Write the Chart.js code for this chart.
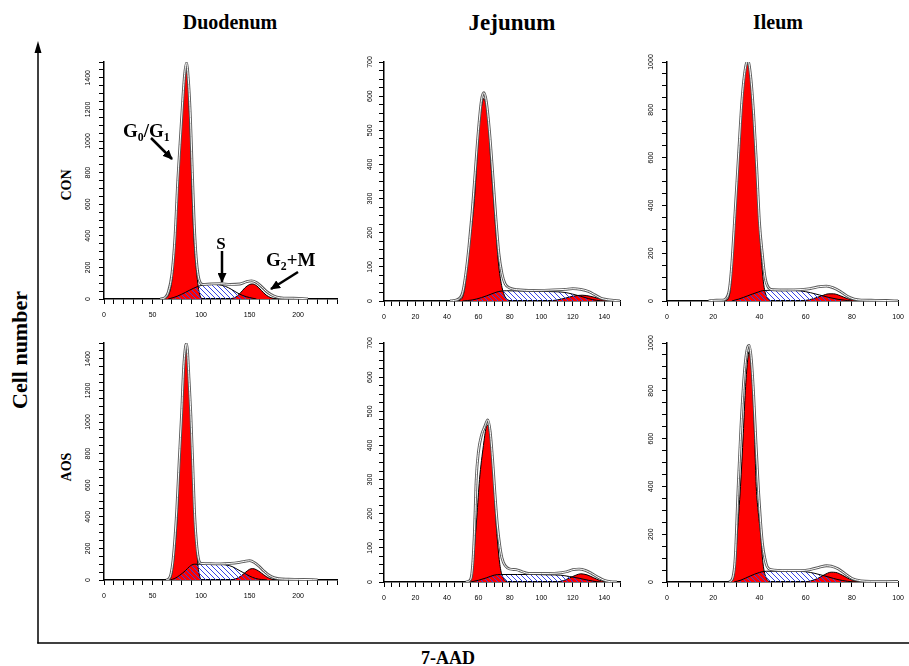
<!DOCTYPE html>
<html>
<head>
<meta charset="utf-8">
<script src="https://cdn.jsdelivr.net/npm/chart.js@4.4.1/dist/chart.umd.min.js"></script>
<style>
  body { margin: 0; background: #fff; width: 909px; height: 666px; position: relative; overflow: hidden; font-family: "Liberation Serif", "Times New Roman", serif; }
  canvas { position: absolute; }
  .t { position: absolute; font-weight: bold; white-space: nowrap; line-height: 1; color: #000; }
  .c { transform: translate(-50%, -50%); }
  .v { transform: translate(-50%, -50%) rotate(-90deg); }
  sub { font-size: 62%; vertical-align: -0.35em; line-height: 0; }
  svg { position: absolute; left: 0; top: 0; z-index: 2; }
</style>
</head>
<body>

<div class="t c" style="left:230px;top:22px;font-size:20px">Duodenum</div>
<div class="t c" style="left:512px;top:22px;font-size:23px">Jejunum</div>
<div class="t c" style="left:778px;top:22px;font-size:20px">Ileum</div>
<div class="t v" style="left:67px;top:185px;font-size:14px">CON</div>
<div class="t v" style="left:67px;top:467px;font-size:14px">AOS</div>
<div class="t v" style="left:20px;top:350px;font-size:22px">Cell number</div>
<div class="t c" style="left:448px;top:658px;font-size:18px">7-AAD</div>

<div class="t" style="left:123px;top:121px;font-size:19px;z-index:3">G<sub>0</sub>/G<sub>1</sub></div>
<div class="t c" style="left:221px;top:243px;font-size:17px;z-index:3">S</div>
<div class="t" style="left:266px;top:250px;font-size:19px;z-index:3">G<sub>2</sub>+M</div>

<svg width="909" height="666">
  <defs>
    <marker id="ah" markerUnits="userSpaceOnUse" markerWidth="10" markerHeight="9" refX="9" refY="4.5" orient="auto">
      <path d="M0,0 L10,4.5 L0,9 Z" fill="#000"/>
    </marker>
  </defs>
  <line x1="38" y1="50" x2="38" y2="643.5" stroke="#000" stroke-width="1.5"/>
  <line x1="37.3" y1="643" x2="909" y2="643" stroke="#000" stroke-width="1.5"/>
  <path d="M38,41 L34.5,53 L41.5,53 Z" fill="#000"/>
  <line x1="151" y1="138" x2="172" y2="159" stroke="#000" stroke-width="2.5" marker-end="url(#ah)"/>
  <line x1="222" y1="251" x2="222" y2="282" stroke="#000" stroke-width="2.5" marker-end="url(#ah)"/>
  <line x1="298" y1="272" x2="271" y2="289" stroke="#000" stroke-width="2.5" marker-end="url(#ah)"/>
</svg>

<script>
// [channel, count] pairs
const conDuoG1 = [[62,0],[66,20],[69,80],[71.3,200],[73.5,420],[75.4,700],[77.2,870],[78.9,1000],[80.9,1200],[83,1380],[85,1442],[86.5,1380],[87.8,1200],[89.2,1000],[90.6,700],[92.5,400],[94,260],[95.4,170],[97,80],[99,20],[101,0]];
const conDuoS = [[66,0],[72,10],[80,30],[88,55],[96,78],[102,88],[110,92],[118,90],[125,80],[131,62],[137,40],[143,22],[150,9],[157,0]];
const conDuoG2 = [[128,0],[135,10],[140,35],[145,70],[150,92],[153,95],[157,85],[162,55],[167,25],[172,8],[178,0]];
const conDuoTot = [[58,0],[63,10],[66,40],[70,160],[73,380],[76,750],[79,1050],[81,1250],[83,1420],[85,1495],[87,1380],[89,1150],[91,800],[93,470],[95,260],[97,150],[99,105],[102,92],[110,95],[120,97],[130,92],[140,95],[147,110],[152,115],[157,105],[162,80],[167,50],[172,28],[178,12],[185,6],[195,5],[205,3],[210,0]];

const conJejG1 = [[46,0],[49,5],[51,30],[52.9,100],[55,190],[57.5,300],[60.3,500],[62,570],[63.4,593],[65,570],[66.6,500],[68,400],[69.6,300],[71.5,180],[73,100],[75,40],[77,12],[80,0]];
const conJejS = [[50,0],[56,3],[62,10],[68,20],[73,28],[78,30],[90,29],[100,28],[110,27],[115,25],[120,20],[125,14],[130,7],[135,2],[140,0]];
const conJejG2 = [[105,0],[110,3],[115,8],[120,14],[126,17],[131,14],[136,8],[140,3],[145,0]];
const conJejTot = [[42,0],[45,2],[48,8],[50,25],[52,80],[54,160],[56,260],[58,380],[60,500],[62,590],[63.5,610],[65,585],[67,500],[69,380],[71,250],[73,140],[75,80],[77,50],[80,38],[85,33],[95,31],[105,32],[115,34],[120,36],[125,34],[130,28],[134,18],[138,8],[142,4],[146,2],[150,0]];

const conIleG1 = [[25,0],[26.5,10],[27.5,60],[28.4,200],[29.7,400],[31,620],[32.1,800],[33.5,950],[35,990],[36.2,920],[37.1,800],[38.3,600],[39.5,400],[40.7,200],[41.7,80],[43,20],[45,0]];
const conIleS = [[28,0],[31,8],[35,22],[39,36],[42,44],[48,45],[54,44],[58,42],[62,35],[66,25],[70,15],[74,7],[78,2],[80,0]];
const conIleG2 = [[58,0],[61,4],[64,12],[67,22],[70,30],[72,30],[75,22],[78,10],[81,3],[83,0]];
const conIleTot = [[18,0],[20,3],[24,4],[25.5,10],[27,50],[28,150],[29.5,380],[31,620],[32.5,850],[34,980],[35,1005],[36.3,930],[37.5,780],[38.8,560],[40,330],[41.2,200],[42.4,100],[44,55],[46,47],[52,46],[58,48],[62,52],[66,60],[69,62],[72,55],[75,40],[78,20],[81,8],[84,4],[90,3],[95,2],[100,0]];

const aosDuoG1 = [[66,0],[68.5,10],[70.5,60],[73,200],[75.4,400],[77.5,700],[79.9,1000],[82,1300],[84,1440],[85,1468],[86,1420],[87.5,1250],[89.5,1000],[91.5,700],[93.3,400],[95.4,200],[97,80],[99,15],[101,0]];
const aosDuoS = [[68,0],[73,10],[78,30],[84,60],[88,85],[93,100],[100,100],[110,99],[120,98],[126,95],[132,85],[138,65],[144,45],[150,25],[156,10],[162,3],[168,0]];
const aosDuoG2 = [[130,0],[136,8],[141,25],[146,50],[150,68],[153,72],[157,65],[162,45],[167,22],[172,7],[177,0]];
const aosDuoTot = [[64,0],[67,8],[69,40],[71,120],[73,260],[75,450],[77.5,760],[79.9,1050],[82,1340],[84,1480],[85,1495],[86,1450],[87.5,1280],[89.5,1040],[91.5,720],[93.3,420],[95.5,220],[97.5,130],[100,105],[110,103],[120,102],[130,105],[138,110],[145,118],[150,122],[155,110],[160,85],[165,55],[170,30],[175,15],[180,8],[190,5],[200,4],[215,2],[220,0]];

const aosJejG1 = [[54,0],[55.5,8],[56.5,40],[57.5,100],[59,190],[60.7,300],[63.2,400],[64.8,450],[66,460],[67,440],[68,400],[69.6,300],[71,190],[72.5,100],[74,40],[76,10],[78,0]];
const aosJejS = [[55,0],[60,5],[65,12],[70,20],[74,22],[85,22],[95,22],[105,21],[112,20],[118,16],[124,11],[130,5],[135,1],[138,0]];
const aosJejG2 = [[110,0],[114,4],[118,12],[122,20],[125,24],[129,21],[133,13],[137,5],[141,0]];
const aosJejTot = [[52,0],[54,3],[55.5,15],[56.5,60],[57.5,150],[58.6,300],[60,380],[62,430],[64,455],[66,475],[67.5,440],[69,360],[70.5,260],[72,170],[73.5,110],[75,70],[77,48],[80,38],[84,36],[88,30],[92,25],[100,25],[110,26],[116,30],[120,36],[124,38],[128,34],[132,25],[136,14],[140,5],[144,1],[148,0]];

const aosIleG1 = [[27,0],[28.5,10],[29.5,70],[30.4,200],[31.8,400],[33,620],[33.9,800],[34.8,920],[35.6,966],[36.4,900],[37.1,800],[37.9,600],[38.6,400],[39.5,290],[40.5,200],[41.5,80],[43,15],[45,0]];
const aosIleS = [[29,0],[32,8],[36,25],[40,40],[43,45],[50,45],[56,45],[60,43],[64,36],[68,26],[72,15],[76,6],[80,1],[82,0]];
const aosIleG2 = [[59,0],[62,4],[65,14],[68,30],[71,41],[73,40],[76,28],[79,12],[82,3],[84,0]];
const aosIleTot = [[27,0],[28.5,20],[29.5,100],[30.8,400],[32,650],[33.5,880],[34.8,980],[35.6,990],[36.5,930],[37.5,780],[38.5,580],[39.6,380],[40.5,250],[41.3,160],[42.3,100],[43.3,65],[45,52],[52,48],[58,48],[62,52],[66,62],[69,68],[71,66],[74,55],[77,35],[80,15],[84,5],[88,3],[95,3],[100,2]];

// tick labels
const duoXLabels = [0, 50, 100, 150, 200];
const jejXLabels = [0, 20, 40, 60, 80, 100, 120, 140];
const ileXLabels = [0, 20, 40, 60, 80, 100];
const duoYLabels = [0, 200, 400, 600, 800, 1000, 1200, 1400];
const jejYLabels = [0, 100, 200, 300, 400, 500, 600, 700];
const ileYLabels = [0, 200, 400, 600, 800, 1000];

// blue diagonal hatch for the S phase
const hatch = (() => {
  const c = document.createElement("canvas");
  c.width = 5; c.height = 5;
  const g = c.getContext("2d");
  g.strokeStyle = "#3444e6";
  g.lineWidth = 1;
  g.beginPath();
  g.moveTo(0, 0); g.lineTo(5, 5);
  g.moveTo(-1, 4); g.lineTo(1, 6);
  g.moveTo(4, -1); g.lineTo(6, 1);
  g.stroke();
  return g.createPattern(c, "repeat");
})();

const tickFont = { family: "Arial, 'Liberation Sans', sans-serif", size: 7 };
const pts = (a) => a.map((p) => ({ x: p[0], y: p[1] }));

function panel(box, xMax, xStep, xLabels, yMax, yStep, yLabels, g1, s, g2, tot) {
  const [L, T, R, B] = box;
  const cv = document.createElement("canvas");
  cv.width = R - L + 48;
  cv.height = B - T + 35;
  cv.style.left = L - 40 + "px";
  cv.style.top = T - 10 + "px";
  document.body.appendChild(cv);

  const line = { pointRadius: 0, cubicInterpolationMode: "monotone", borderWidth: 1 };

  new Chart(cv, {
    type: "line",
    data: {
      datasets: [
        { ...line, data: pts(tot), borderColor: "#fff", fill: false, order: 0 },
        { ...line, data: pts(tot), borderColor: "#595959", borderWidth: 2.8, fill: false, order: 1 },
        { ...line, data: pts(s), borderColor: "#000", backgroundColor: hatch, fill: "origin", order: 2 },
        { ...line, data: pts(g2), borderColor: "#000", backgroundColor: "#ff0000", fill: "origin", order: 3 },
        { ...line, data: pts(g1), borderColor: "#000", backgroundColor: "#ff0000", fill: "origin", order: 4 },
      ],
    },
    options: {
      responsive: false,
      animation: false,
      devicePixelRatio: 1,
      layout: { padding: { top: 10, right: 8, left: 0, bottom: 0 } },
      plugins: { legend: { display: false }, tooltip: { enabled: false } },
      scales: {
        x: {
          type: "linear",
          min: 0,
          max: xMax,
          afterFit: (sc) => { sc.height = 25; },
          border: { color: "#000", width: 1.5 },
          grid: { drawOnChartArea: false, tickLength: 5, color: "#000" },
          ticks: {
            stepSize: xStep, autoSkip: false, maxRotation: 0, padding: 7,
            color: "#000", font: tickFont,
            callback: (v) => (xLabels.includes(v) ? String(v) : ""),
          },
        },
        y: {
          min: 0,
          max: yMax,
          afterFit: (sc) => { sc.width = 40; },
          border: { color: "#000", width: 1.5 },
          grid: { drawOnChartArea: false, tickLength: 5, color: "#000" },
          ticks: {
            stepSize: yStep, autoSkip: false, minRotation: 90, maxRotation: 90,
            crossAlign: "center", padding: 3, color: "#000", font: tickFont,
            callback: (v) => (yLabels.includes(v) ? String(v) : ""),
          },
        },
      },
    },
  });
}

panel([104, 62, 337, 299], 240, 10, duoXLabels, 1500, 50, duoYLabels, conDuoG1, conDuoS, conDuoG2, conDuoTot);
panel([384, 62, 620, 301], 150, 5, jejXLabels, 700, 25, jejYLabels, conJejG1, conJejS, conJejG2, conJejTot);
panel([667, 62, 903, 301], 100, 5, ileXLabels, 1000, 50, ileYLabels, conIleG1, conIleS, conIleG2, conIleTot);
panel([104, 343, 337, 580], 240, 10, duoXLabels, 1500, 50, duoYLabels, aosDuoG1, aosDuoS, aosDuoG2, aosDuoTot);
panel([384, 343, 620, 582], 150, 5, jejXLabels, 700, 25, jejYLabels, aosJejG1, aosJejS, aosJejG2, aosJejTot);
panel([667, 343, 903, 582], 100, 5, ileXLabels, 1000, 50, ileYLabels, aosIleG1, aosIleS, aosIleG2, aosIleTot);
</script>
</body>
</html>
